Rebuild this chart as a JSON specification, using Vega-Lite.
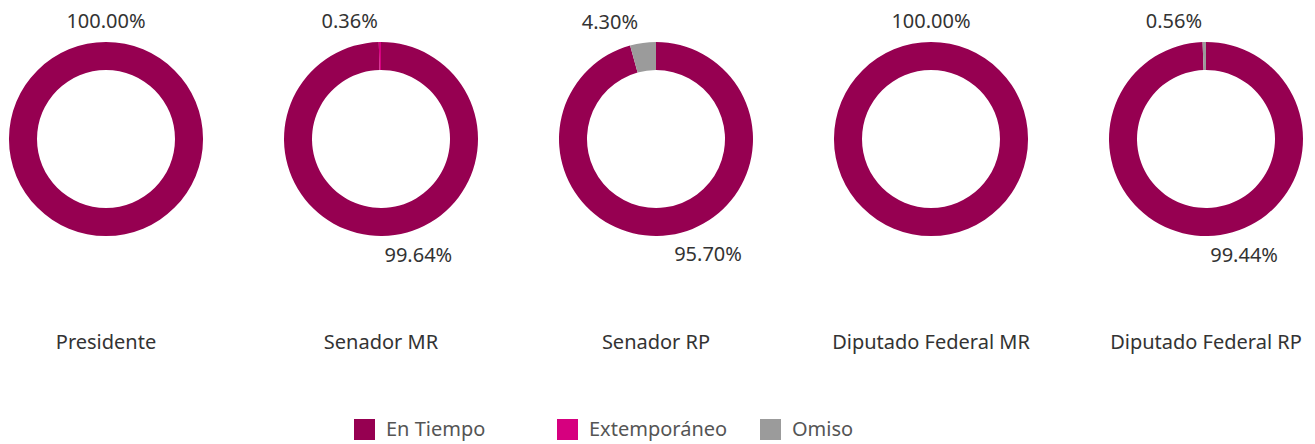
{
  "$schema": "https://vega.github.io/schema/vega-lite/v6.json",
  "padding": 5,
  "background": "white",
  "config": {"view": {"stroke": null}, "font": "Noto Sans"},
  "data": {"values": [
    {"cargo": "Presidente", "estado": "En Tiempo", "orden": 1, "pct": 1.0},
    {"cargo": "Senador MR", "estado": "En Tiempo", "orden": 1, "pct": 0.9964},
    {"cargo": "Senador MR", "estado": "Extemporáneo", "orden": 2, "pct": 0.0036},
    {"cargo": "Senador RP", "estado": "En Tiempo", "orden": 1, "pct": 0.957},
    {"cargo": "Senador RP", "estado": "Omiso", "orden": 3, "pct": 0.043},
    {"cargo": "Diputado Federal MR", "estado": "En Tiempo", "orden": 1, "pct": 1.0},
    {"cargo": "Diputado Federal RP", "estado": "En Tiempo", "orden": 1, "pct": 0.9944},
    {"cargo": "Diputado Federal RP", "estado": "Omiso", "orden": 3, "pct": 0.0056}
  ]},
  "facet": {
    "column": {
      "field": "cargo",
      "type": "nominal",
      "sort": ["Presidente", "Senador MR", "Senador RP", "Diputado Federal MR", "Diputado Federal RP"],
      "header": {"title": null, "labelOrient": "bottom", "labelFontSize": 20, "labelColor": "#333333", "labelPadding": 60, "labelFont": "Noto Sans", "labelFontWeight": "normal"}
    }
  },
  "spacing": 73,
  "spec": {
    "width": 202,
    "height": 268,
    "layer": [
      {
        "mark": {"type": "arc", "innerRadius": 69, "outerRadius": 97},
        "encoding": {
          "theta": {"field": "pct", "type": "quantitative", "stack": true},
          "order": {"field": "orden", "type": "quantitative"},
          "color": {
            "field": "estado", "type": "nominal",
            "scale": {"domain": ["En Tiempo", "Extemporáneo", "Omiso"], "range": ["#960051", "#D6007F", "#9B9B9B"]},
            "legend": {
              "title": null, "orient": "none", "direction": "horizontal", "columns": 3, "gridAlign": "all",
              "legendX": 349, "legendY": 414,
              "symbolType": "square", "symbolSize": 441, "symbolStrokeWidth": 0, "symbolOpacity": 1,
              "labelFontSize": 20, "labelColor": "#555555", "labelFont": "Noto Sans", "labelOffset": 11, "columnPadding": 32, "labelLimit": 300
            }
          }
        }
      },
      {
        "mark": {"type": "text", "radius": 119, "dx": -30, "dy": 2, "fontSize": 20, "color": "#333333", "baseline": "middle"},
        "encoding": {
          "theta": {"field": "pct", "type": "quantitative", "stack": true},
          "order": {"field": "orden", "type": "quantitative"},
          "detail": {"field": "estado", "type": "nominal"},
          "text": {"condition": {"test": "datum.estado !== 'En Tiempo'", "field": "pct", "type": "quantitative", "format": ".2%"}, "value": ""}
        }
      },
      {
        "transform": [{"filter": "datum.estado === 'En Tiempo' && datum.pct < 1"}],
        "mark": {"type": "text", "radius": 119, "dx": 36, "dy": -2, "fontSize": 20, "color": "#333333", "baseline": "middle"},
        "encoding": {
          "theta": {"field": "pct", "type": "quantitative", "stack": true},
          "order": {"field": "orden", "type": "quantitative"},
          "detail": {"field": "estado", "type": "nominal"},
          "text": {"field": "pct", "type": "quantitative", "format": ".2%"}
        }
      },
      {
        "transform": [{"filter": "datum.pct >= 1"}],
        "mark": {"type": "text", "radius": 119, "theta": 0, "dy": 2, "fontSize": 20, "color": "#333333", "baseline": "middle"},
        "encoding": {
          "text": {"field": "pct", "type": "quantitative", "format": ".2%"}
        }
      }
    ]
  }
}
